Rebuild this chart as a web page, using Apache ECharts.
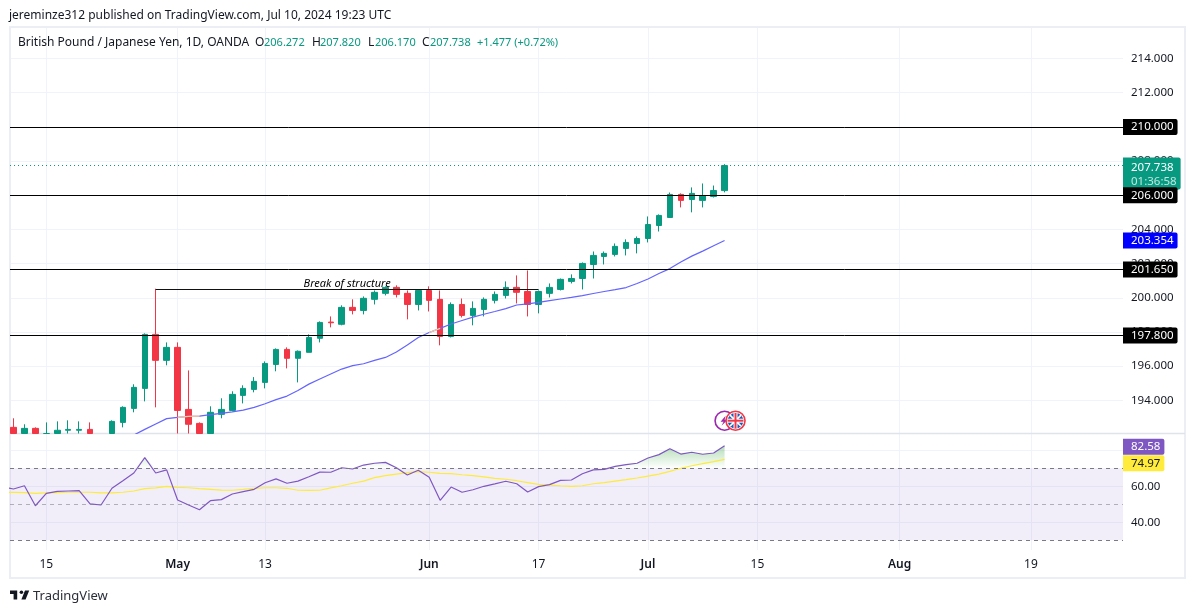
<!DOCTYPE html>
<html><head><meta charset="utf-8">
<style>html,body{margin:0;padding:0;background:#fff}#c{width:1195px;height:613px}</style>
<script src="https://cdn.jsdelivr.net/npm/echarts@6/dist/echarts.min.js"></script>
</head><body><div id="c"></div>
<script>
const FONT = '"Noto Sans"';
const opens  = [192.42,191.9,192.36,191.7,191.8,192.25,192.25,192.30,191.5,191.8,192.71,193.53,194.70,197.86,196.34,197.10,193.47,192.65,191.9,193.18,193.41,194.29,194.64,195.05,196.10,196.98,196.46,196.81,197.63,198.58,198.45,199.44,199.26,199.91,200.26,200.61,200.26,199.61,200.43,199.91,197.74,199.61,198.97,199.32,199.85,200.14,200.61,200.37,199.61,200.26,200.49,200.96,201.13,201.95,202.42,202.54,202.89,203.18,203.47,204.23,204.70,206.05,205.75,205.70,205.93,206.272];
const closes = [191.9,192.36,191.8,191.95,192.25,192.3,192.3,191.8,191.9,192.77,193.59,194.76,197.86,196.34,197.10,193.41,192.60,191.9,193.30,193.47,194.35,194.70,195.11,196.16,196.98,196.46,196.87,197.68,198.56,198.54,199.44,199.26,199.97,200.32,200.61,200.20,199.61,200.43,199.85,197.74,199.61,198.97,199.38,199.91,200.20,200.61,200.32,199.61,200.37,200.61,201.08,201.13,202.01,202.48,202.60,203.01,203.24,203.47,204.29,204.82,206.05,205.70,206.11,205.99,206.28,207.738];
const lows   = [191.6,191.6,191.5,191.4,191.6,191.6,191.7,191.5,191.3,191.6,192.42,193.30,193.94,193.59,196.05,191.5,191.5,191.6,191.6,192.95,193.36,193.82,194.47,194.70,195.70,195.87,195.05,196.81,197.39,198.27,198.39,199.03,199.03,199.61,200.14,200.02,198.74,199.26,199.20,197.22,197.68,198.85,198.39,198.91,199.67,199.96,199.67,198.91,199.09,200.02,200.43,200.84,200.49,201.13,201.95,202.42,202.48,202.60,203.24,203.88,204.70,205.29,205.00,205.29,205.87,206.170];
const highs  = [192.95,192.6,192.42,192.71,192.77,192.83,192.77,192.71,191.98,192.83,193.65,194.94,197.92,200.53,197.39,197.39,195.75,192.71,193.65,194.12,194.53,194.88,195.36,196.28,197.04,197.10,196.92,197.86,198.62,198.91,199.56,199.91,200.08,200.43,200.67,200.73,200.43,200.49,200.67,200.43,199.73,199.96,199.79,200.02,200.37,200.96,201.31,201.60,200.43,200.84,201.13,201.37,202.07,202.71,202.71,203.18,203.42,203.59,204.76,204.88,206.16,206.11,206.46,206.69,206.57,207.820];
const maStart = 11;
const maValues = [191.97,192.30,192.62,192.93,193.0,193.06,193.08,193.16,193.24,193.32,193.43,193.59,193.80,194.04,194.25,194.58,194.95,195.25,195.54,195.83,196.03,196.14,196.34,196.51,196.83,197.24,197.68,197.97,198.21,198.47,198.67,198.87,199.04,199.20,199.37,199.58,199.65,199.73,199.84,199.93,200.02,200.13,200.25,200.37,200.48,200.60,200.84,201.10,201.42,201.71,202.09,202.44,202.73,203.05,203.354];
const maHighlightRanges = [[15,17],[38,39]];
const rsiStart = -1;
const rsiValues = [59.7,58.5,60.3,49.2,56.1,57.2,57.4,57.6,50.2,49.6,58.9,63.1,67.4,75.9,67.4,69.1,52.4,49.6,47.0,52.0,52.6,55.7,57.0,58.3,62.0,64.1,61.7,62.9,65.3,67.9,67.8,70.3,69.6,71.8,72.8,73.3,70.3,66.3,68.9,65.0,52.2,59.6,56.7,58.1,60.0,61.3,62.8,61.4,56.8,59.8,60.9,63.3,63.5,67.0,69.1,69.4,71.1,72.0,72.8,75.7,77.6,80.9,77.9,78.9,77.8,78.5,82.58];
const rsiMaValues = [56.6,56.6,56.5,56.1,56.3,56.5,56.7,56.7,56.7,56.4,56.3,56.7,57.4,58.7,59.1,60.0,59.4,59.2,58.7,58.3,57.9,57.8,58.3,58.9,59.2,59.2,58.9,57.8,57.7,57.8,59.1,60.3,61.7,62.9,64.8,65.9,66.8,67.6,68.1,67.8,67.2,67.0,66.4,65.9,65.2,64.4,63.9,63.1,62.0,61.1,60.7,60.3,60.0,60.3,61.4,62.0,62.9,63.7,64.6,65.7,66.8,68.3,70.0,71.4,72.6,73.7,74.97];
const dayTicks = [3,15,23,38,48,58,68,81,93];
const dayLabels = ['15','May','13','Jun','17','Jul','15','Aug','19'];
const monthLabels = ['May','Jun','Jul','Aug'];
const priceTicks = [194,196,198,200,202,204,206,208,210,212,214];
const rsiTicks = [40,60,80];
const levels = [210,206,201.65,197.8];
const lastPrice = 207.738, countdown = '01:36:58';
const maLast = 203.354, rsiLast = 82.58, rsiMaLast = 74.97;
const bosPrice = 200.5, bosFrom = 13, bosTo = 48, bosText = 'Break of structure';
const events = [[65,192.81,'purple'],[66,192.81,'flag']];
const headerUser = 'jereminze312 published on TradingView.com, Jul 10, 2024 19:23 UTC';
const headerTitle = 'British Pound / Japanese Yen, 1D, OANDA';
const ohlc = [['O','206.272',255,264],['H','207.820',312,320],['L','206.170',368,375],['C','207.738',422,430]];
const changeText = '+1.477 (+0.72%)';

const GREEN='#089981', RED='#f23645', GRID='#f0f3fa', TXT='#131722';
const priceMin = 192.06, priceMax = 215.787;
const clampPrice = v => Math.max(v, priceMin);
// the pane cuts candles off at its floor, and candlestick series do not clip partly visible bodies
const candles = opens.map((o,i)=>[i,clampPrice(o),clampPrice(closes[i]),clampPrice(lows[i]),clampPrice(highs[i])]).filter((c,i)=>highs[i]>priceMin);
const maData = maValues.map((v,i)=>[maStart+i,v]);
const maHi = [];
maHighlightRanges.forEach(r=>{maData.filter(d=>d[0]>=r[0]&&d[0]<=r[1]).forEach(d=>maHi.push(d));maHi.push([r[1]+0.5,null]);});
const rsiData = rsiValues.map((v,i)=>[rsiStart+i,v]);
const rsiMaData = rsiMaValues.map((v,i)=>[rsiStart+i,v]);
const rsiFill = rsiValues.map((v,i)=>[rsiStart+i,Math.max(v,70)]);

const xMin=-0.32, xMax=101.42;
const NUM = 11.5;
const base = {fontFamily:FONT,fontSize:NUM};
function box(bg,color,pad){return Object.assign({show:true,position:'end',distance:0,backgroundColor:bg,color,padding:pad,borderRadius:[0,2,2,0]},base);}
const noSym={symbol:['none','none'],silent:true,animation:false};
const hidden={color:'rgba(0,0,0,0)',width:0};
const txt=(text,x,y,font,fill)=>({type:'text',silent:true,z:10,x,y,style:{text,font:font+' '+FONT,fill,verticalAlign:'middle'}});

const option = {
 animation:false,
 backgroundColor:'#fff',
 textStyle:{fontFamily:FONT},
 grid:[{left:10,top:28,width:1113,height:405.5},{left:10,top:433.5,width:1113,height:116.5}],
 xAxis:[
  {gridIndex:0,type:'value',min:xMin,max:xMax,axisLine:{show:false},axisTick:{show:false,customValues:dayTicks},axisLabel:{show:false},splitLine:{show:true,lineStyle:{color:GRID,width:1}}},
  {gridIndex:1,type:'value',min:xMin,max:xMax,axisLine:{show:false},axisTick:{show:false,customValues:dayTicks},
   axisLabel:{show:true,customValues:dayTicks,margin:9,fontFamily:FONT,fontSize:12,color:TXT,
    formatter:v=>{const s=dayLabels[dayTicks.indexOf(v)];return monthLabels.includes(s)?'{m|'+s+'}':s;},
    rich:{m:{fontFamily:FONT,fontSize:12,fontWeight:600,color:TXT}}},
   splitLine:{show:true,lineStyle:{color:GRID,width:1}}}
 ],
 yAxis:[
  {gridIndex:0,type:'value',position:'right',min:priceMin,max:priceMax,axisLine:{show:false},axisTick:{show:false,customValues:priceTicks},
   axisLabel:{show:true,customValues:priceTicks,margin:8,fontFamily:FONT,fontSize:NUM,color:TXT,formatter:v=>v.toFixed(3)},
   splitLine:{show:true,lineStyle:{color:GRID,width:1}}},
  {gridIndex:1,type:'value',position:'right',min:24.61,max:89.33,axisLine:{show:false},axisTick:{show:false,customValues:rsiTicks},
   axisLabel:{show:true,customValues:rsiTicks,margin:8,fontFamily:FONT,fontSize:NUM,color:TXT,formatter:v=>v.toFixed(2)},
   splitLine:{show:true,lineStyle:{color:GRID,width:1}}}
 ],
 series:[
  {type:'candlestick',name:'GBPJPY',xAxisIndex:0,yAxisIndex:0,data:candles,encode:{x:0,y:[1,2,3,4]},barWidth:6,
   itemStyle:{color:GREEN,color0:RED,borderColor:GREEN,borderColor0:RED,borderWidth:1},silent:true,z:3},
  {type:'line',name:'MA',xAxisIndex:0,yAxisIndex:0,data:maData,showSymbol:false,lineStyle:{color:'#6464ff',width:1.2},silent:true,z:4},
  {type:'line',name:'MA highlight',xAxisIndex:0,yAxisIndex:0,data:maHi,showSymbol:false,connectNulls:false,lineStyle:{color:'#ffc999',width:1.2},silent:true,z:4},
  {type:'line',name:'Levels',xAxisIndex:0,yAxisIndex:0,data:[],clip:false,z:6,
   markLine:Object.assign({},noSym,{clip:false,data:[
     {yAxis:lastPrice,lineStyle:{color:GREEN,type:[1,3],width:1},
      label:Object.assign(box(GREEN,'#fff',[3,4,1,8]),{offset:[0,8],formatter:lastPrice.toFixed(3)+'\n{t|'+countdown+'}',lineHeight:14,rich:{t:{color:'rgba(255,255,255,.75)',fontFamily:FONT,fontSize:NUM,lineHeight:14}}})},
     {yAxis:maLast,lineStyle:hidden,label:Object.assign(box('#0000ff','#fff',[3,4,1,8]),{formatter:maLast.toFixed(3)})},
     ...levels.map(v=>({yAxis:v,lineStyle:{color:'#000',type:'solid',width:1},label:Object.assign(box('#000','#fff',[3,4,1,8]),{formatter:v.toFixed(3)})})),
     [{coord:[bosFrom,bosPrice],lineStyle:{color:'#111',type:'solid',width:1},label:{show:true,position:'middle',formatter:bosText,fontFamily:FONT,fontSize:11,fontStyle:'italic',color:'#000',distance:0}},{coord:[bosTo,bosPrice]}]
   ]})},
  {type:'custom',name:'Events',xAxisIndex:0,yAxisIndex:0,data:events,silent:true,clip:false,z:5,encode:{x:0,y:1},
   renderItem:(p,api)=>{
     const c=api.coord([api.value(0),api.value(1)]);const kind=events[p.dataIndex][2];const x=c[0],y=c[1];
     if(kind==='purple') return {type:'group',children:[
       {type:'circle',shape:{cx:x,cy:y,r:9.5},style:{fill:'#fff',stroke:'#9c27b0',lineWidth:1.6}},
       {type:'polygon',shape:{points:[[x+1,y-5],[x-4,y+1],[x-1,y+1],[x-3,y+5],[x+3,y-1],[x,y-1]]},style:{fill:'#9c27b0'}}]};
     const r=7.8;
     return {type:'group',children:[
       {type:'circle',shape:{cx:x,cy:y,r:9.5},style:{fill:'#fff',stroke:RED,lineWidth:1.6}},
       {type:'circle',shape:{cx:x,cy:y,r},style:{fill:'#1e5bb8'}},
       {type:'line',shape:{x1:x-5.5,y1:y-5.5,x2:x+5.5,y2:y+5.5},style:{stroke:'#fff',lineWidth:1.6}},
       {type:'line',shape:{x1:x-5.5,y1:y+5.5,x2:x+5.5,y2:y-5.5},style:{stroke:'#fff',lineWidth:1.6}},
       {type:'rect',shape:{x:x-r,y:y-2,width:2*r,height:4},style:{fill:'#fff'}},
       {type:'rect',shape:{x:x-2,y:y-r,width:4,height:2*r},style:{fill:'#fff'}},
       {type:'rect',shape:{x:x-r,y:y-1,width:2*r,height:2},style:{fill:RED}},
       {type:'rect',shape:{x:x-1,y:y-r,width:2,height:2*r},style:{fill:RED}}]};
   }},
  {type:'line',name:'RSI fill',xAxisIndex:1,yAxisIndex:1,data:rsiFill,showSymbol:false,lineStyle:{width:0,opacity:0},silent:true,z:2,
   areaStyle:{origin:70,opacity:1,color:{type:'linear',x:0,y:0,x2:0,y2:1,colorStops:[{offset:0,color:'rgba(76,175,80,.42)'},{offset:1,color:'rgba(76,175,80,0)'}]}}},
  {type:'line',name:'RSI MA',xAxisIndex:1,yAxisIndex:1,data:rsiMaData,showSymbol:false,lineStyle:{color:'#fdeb3b',width:1.2},silent:true,z:3,
   markArea:{silent:true,itemStyle:{color:'rgba(126,87,194,.1)'},data:[[{yAxis:70},{yAxis:30}]]},
   markLine:Object.assign({},noSym,{clip:false,data:[
     {yAxis:70,lineStyle:{color:'#787b86',type:[4,4],width:1},label:{show:false}},
     {yAxis:50,lineStyle:{color:'rgba(120,123,134,.55)',type:[4,4],width:1},label:{show:false}},
     {yAxis:30,lineStyle:{color:'#787b86',type:[4,4],width:1},label:{show:false}}
   ]})},
  {type:'line',name:'RSI',xAxisIndex:1,yAxisIndex:1,data:rsiData,showSymbol:false,lineStyle:{color:'#7e57c2',width:1.2},silent:true,z:4},
  {type:'line',name:'RSI labels',xAxisIndex:1,yAxisIndex:1,data:[],clip:false,z:6,
   markLine:Object.assign({},noSym,{clip:false,data:[
     {yAxis:rsiLast,lineStyle:hidden,label:Object.assign(box('#7e57c2','#fff',[3,4,1,8]),{offset:[0,1],formatter:rsiLast.toFixed(2)})},
     {yAxis:rsiMaLast,lineStyle:hidden,label:Object.assign(box('#ffeb3b','#131722',[3,4,1,8]),{offset:[0,4],formatter:rsiMaLast.toFixed(2)})}
   ]})}
 ],
 graphic:{elements:[
  {type:'rect',silent:true,z:1,shape:{x:10,y:27,width:1175,height:551},style:{fill:'none',stroke:'#eceef5',lineWidth:2}},
  {type:'line',silent:true,z:1,shape:{x1:10,y1:433.5,x2:1185,y2:433.5},style:{stroke:'#e0e3eb',lineWidth:1.5}},
  txt(headerUser,9,16,'12px',TXT),
  txt(headerTitle,18,43,'12px',TXT),
  ...ohlc.flatMap(r=>[txt(r[0],r[2],43,'12px',TXT),txt(r[1],r[3],43,'11px',GREEN)]),
  txt(changeText,477,43,'11px',GREEN),
  {type:'group',silent:true,z:10,x:8.8,y:586.9,scaleX:0.6,scaleY:0.6,children:[
    {type:'polygon',silent:true,z:10,shape:{points:[[14,6],[2,6],[2,12],[8,12],[8,21],[14,21]]},style:{fill:TXT}},
    {type:'polygon',silent:true,z:10,shape:{points:[[28,21],[21,21],[27,6],[34,6]]},style:{fill:TXT}},
    {type:'circle',silent:true,z:10,shape:{cx:21,cy:9,r:3},style:{fill:TXT}}]},
  txt('TradingView',33,596,'13px','#2a2e39')
 ]}
};
const chart = echarts.init(document.getElementById('c'),null,{renderer:'canvas',width:1195,height:613});
chart.setOption(option);
</script></body></html>
